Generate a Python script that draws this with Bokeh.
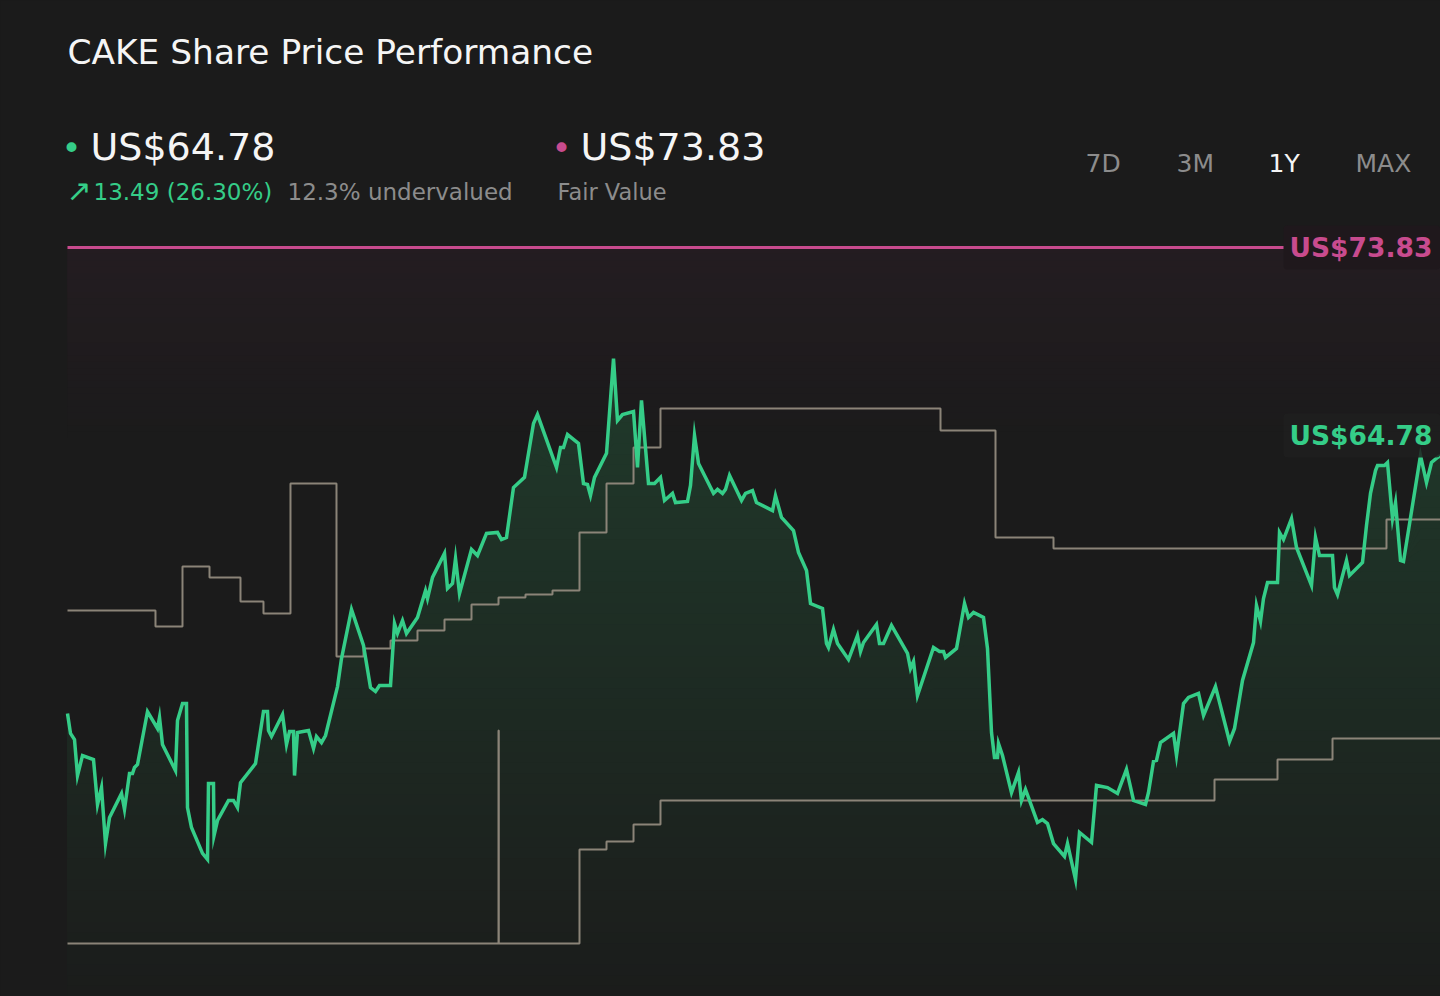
import numpy as np
from bokeh.plotting import figure
from bokeh.models import Range1d, Label
from bokeh.embed import file_html
from bokeh.resources import INLINE

# ---------------- data ----------------
title_text = "CAKE Share Price Performance"
last_price = 64.78
fair_value = 73.83
change_abs = 13.49
change_pct = 26.30
undervalued_pct = 12.3
periods = ["7D", "3M", "1Y", "MAX"]
active_period = "1Y"

# days since start of the 1Y window, and share price (US$)
day = [0.00, 0.80, 1.86, 2.66, 3.99, 6.91, 7.98, 9.04, 10.10, 11.17,
       14.36, 15.15, 16.48, 17.28, 17.81, 18.61, 21.27, 23.93, 24.46, 25.25,
       28.71, 29.24, 30.57, 31.63, 31.90, 32.96, 35.89, 37.22, 37.48, 38.81,
       38.95, 39.88, 42.80, 44.13, 45.19, 45.99, 49.98, 52.10, 53.17, 53.43,
       54.23, 57.16, 58.22, 59.02, 60.08, 60.35, 61.14, 64.07, 65.40, 66.19,
       67.52, 68.59, 71.78, 72.84, 75.50, 78.69, 80.55, 81.88, 82.94, 85.87,
       86.93, 87.73, 89.06, 90.12, 93.04, 95.17, 95.70, 97.03, 100.22, 101.02,
       102.35, 103.15, 104.21, 107.40, 108.99, 111.39, 114.31, 115.37, 116.70, 118.56,
       121.49, 123.88, 124.94, 130.00, 131.06, 131.86, 132.92, 135.84, 137.17, 138.24,
       139.03, 140.10, 143.29, 145.15, 146.21, 147.54, 150.47, 151.53, 152.59, 154.45,
       156.05, 157.64, 158.71, 160.83, 161.63, 164.82, 165.62, 166.68, 167.75, 171.73,
       172.80, 174.13, 174.92, 175.99, 179.18, 180.24, 182.10, 183.16, 187.42, 188.21,
       189.81, 193.00, 194.33, 196.46, 197.52, 200.71, 201.77, 202.30, 203.63, 204.70,
       207.62, 210.01, 210.81, 211.61, 215.06, 215.86, 216.93, 219.05, 223.31, 224.10,
       224.90, 225.96, 230.22, 231.81, 232.88, 233.41, 236.33, 238.46, 239.52, 240.85,
       243.51, 244.57, 245.64, 246.43, 247.23, 247.50, 248.56, 250.95, 252.81, 253.61,
       254.67, 257.86, 259.19, 260.52, 262.12, 265.04, 265.84, 267.97, 269.03, 272.22,
       273.55, 276.47, 279.13, 281.52, 283.39, 286.58, 287.37, 288.70, 289.50, 290.56,
       294.02, 294.82, 296.68, 298.01, 300.67, 302.00, 305.18, 308.91, 310.24, 312.36,
       315.29, 316.08, 317.15, 317.94, 319.01, 321.67, 322.20, 323.26, 325.39, 326.72,
       330.70, 331.77, 332.83, 336.29, 336.82, 337.62, 340.01, 340.81, 344.26, 345.33,
       346.39, 347.72, 348.25, 350.11, 350.91, 352.24, 353.04, 354.36, 355.16, 359.68,
       361.28, 362.61, 364.20, 365.00]

price = [51.24, 50.19, 49.87, 47.98, 49.03, 48.82, 46.46, 47.35, 44.41, 45.78,
         47.04, 46.20, 48.09, 48.09, 48.40, 48.56, 51.34, 50.45, 51.03, 49.61,
         48.24, 50.87, 51.76, 51.76, 46.30, 45.25, 43.89, 43.57, 47.56, 47.56,
         44.83, 45.62, 46.67, 46.67, 46.30, 47.61, 48.61, 51.34, 51.34, 50.34,
         50.03, 51.18, 49.61, 50.29, 50.29, 47.98, 50.24, 50.34, 49.40, 50.03,
         49.71, 50.08, 52.65, 54.12, 56.70, 54.81, 52.60, 52.39, 52.71, 52.71,
         55.96, 55.44, 56.12, 55.44, 56.28, 57.69, 57.27, 58.38, 59.64, 57.80,
         58.06, 59.37, 57.54, 59.85, 59.53, 60.69, 60.74, 60.37, 60.48, 63.10,
         63.63, 66.46, 66.93, 64.15, 65.20, 65.20, 65.88, 65.41, 63.31, 63.26,
         62.68, 63.63, 64.89, 69.87, 66.62, 66.93, 67.09, 64.15, 67.67, 63.31,
         63.31, 63.63, 62.42, 62.79, 62.31, 62.37, 63.21, 65.83, 64.36, 62.79,
         63.00, 62.79, 63.00, 63.73, 62.42, 62.79, 62.94, 62.31, 61.89, 62.68,
         61.53, 60.84, 59.69, 58.74, 57.01, 56.75, 54.91, 54.70, 55.65, 54.91,
         54.07, 55.33, 54.49, 54.96, 55.91, 54.91, 54.91, 55.86, 54.39, 53.60,
         53.97, 52.18, 54.70, 54.49, 54.49, 54.18, 54.65, 57.01, 56.28, 56.54,
         56.28, 54.65, 50.24, 48.93, 48.93, 49.66, 49.03, 47.09, 48.14, 46.67,
         47.25, 45.52, 45.67, 45.46, 44.41, 43.73, 44.41, 42.52, 44.99, 44.47,
         47.46, 47.35, 47.04, 48.30, 46.67, 46.46, 47.09, 48.72, 48.77, 49.71,
         50.19, 49.03, 51.76, 52.08, 52.29, 51.13, 52.65, 49.77, 50.45, 52.97,
         54.96, 56.91, 56.07, 57.27, 58.11, 58.11, 60.74, 60.37, 61.47, 59.95,
         57.96, 60.48, 59.53, 59.53, 57.85, 57.48, 59.27, 58.48, 59.16, 61.11,
         62.79, 63.99, 64.25, 64.25, 64.41, 61.47, 62.31, 59.27, 59.22, 64.78,
         63.36, 64.41, 64.68, 64.78]

# two step series shown in grey (same US$ scale)
upper_step_day = [0, 23.39, 30.57, 37.75, 45.99, 52.10, 59.28, 71.51, 78.69, 85.87,
                  93.04, 100.22, 107.40, 114.58, 121.75, 128.93, 136.11, 143.29,
                  150.47, 157.64, 232.08, 246.70, 262.12, 350.64, 365.00]
upper_step_val = [56.64, 55.80, 58.95, 58.38, 57.12, 56.49, 63.31, 54.23, 54.65, 55.07,
                  55.59, 56.17, 56.96, 57.33, 57.48, 57.69, 60.74, 63.31,
                  65.20, 67.25, 66.09, 60.48, 59.90, 61.42, 61.42]
lower_step_day = [0, 114.58, 114.65, 136.11, 143.29, 150.47, 157.64, 304.92, 321.67, 336.29, 365.00]
lower_step_val = [39.16, 50.34, 39.16, 44.10, 44.52, 45.41, 46.67, 47.77, 48.82, 49.92, 49.92]

# ---------------- style ----------------
BG = "#1b1b1b"
GREEN = "#35cd88"
PINK = "#c84b8e"
STEP_GREY = "#8b8478"
WHITE = "#f5f5f5"
GREY_TXT = "#8c8c8c"
FONT = "DejaVu Sans"

W, H = 1440, 996
X_RANGE = (-17.811, 364.998)
Y_RANGE = (36.381, 88.664)
FV_SHIFT = 1.868  # fair value track

p = figure(width=W, height=H, x_range=Range1d(*X_RANGE), y_range=Range1d(*Y_RANGE),
           x_axis_type=None, y_axis_type=None, output_backend="svg",
           toolbar_location=None, min_border=0, background_fill_color=BG,
           border_fill_color=BG, outline_line_color=None)
p.grid.visible = False
p.extra_y_ranges = {"fv": Range1d(Y_RANGE[0] - FV_SHIFT, Y_RANGE[1] - FV_SHIFT)}

day_arr = np.array(day)
price_arr = np.array(price)


def mix(c1, c2, t):
    t = min(max(t, 0.0), 1.0)
    return "#%02x%02x%02x" % tuple(int(round(a + (b - a) * t)) for a, b in zip(c1, c2))


# pink fair value glow band
NB = 30
DEPTH = 10.0
depths = np.linspace(DEPTH, 0.0, NB + 1)[:-1]
pink_cols = [mix((27, 27, 27), (36, 28, 33), 1 - d / DEPTH) for d in depths]
p.quad(left=day_arr[0], right=day_arr[-1], top=fair_value,
       bottom=fair_value - depths, fill_color=pink_cols, line_color=None,
       y_range_name="fv")

# green gradient area under price
NF = 60
lo = Y_RANGE[0]
hi = price_arr.max()
edges = np.linspace(lo, hi, NF + 1)
for k in range(NF - 1, -1, -1):
    mid = (edges[k] + edges[k + 1]) / 2
    col = mix((27, 28, 27), (32, 58, 43), (mid - lo) / (hi - lo))
    p.varea(x=day_arr, y1=lo, y2=np.minimum(price_arr, edges[k + 1]),
            fill_color=col, fill_alpha=1.0)

# fair value line
p.line(x=[day_arr[0], day_arr[-1]], y=[fair_value, fair_value], line_color=PINK,
       line_width=3, y_range_name="fv")

# grey step series
p.step(x=upper_step_day, y=upper_step_val, mode="after", line_color=STEP_GREY, line_width=2)
p.step(x=lower_step_day, y=lower_step_val, mode="after", line_color=STEP_GREY, line_width=2)

# price line
p.line(x=day_arr, y=price_arr, line_color=GREEN, line_width=3.5, line_join="miter")


def lab(text, px, py, size, color, bold=False, k=0.38, **kw):
    # py: wanted alphabetic baseline (page pixels from top)
    p.add_layout(Label(x=px, y=H - (py - k * size), x_units="screen", y_units="screen",
                       text=text, text_font=FONT, text_font_size=f"{size}px",
                       text_color=color, text_font_style="bold" if bold else "normal",
                       text_baseline="alphabetic", **kw))


# title & header
lab(title_text, 67, 65, 34.4, WHITE)
lab("\u2022", 61, 160, 34, GREEN)
lab(f"US${last_price:.2f}", 90, 161, 38, WHITE)
lab("\u2022", 551, 160, 34, PINK)
lab(f"US${fair_value:.2f}", 580, 161, 38, WHITE)
lab("\u2197", 66, 201, 30, GREEN)
lab(f"{change_abs:.2f} ({change_pct:.2f}%)", 93, 200, 23, GREEN)
lab(f"{undervalued_pct:.1f}% undervalued", 287, 200, 23, GREY_TXT)
lab("Fair Value", 557, 200, 22.5, GREY_TXT)

period_x = [1085, 1176, 1268, 1355]
for t, px in zip(periods, period_x):
    lab(t, px, 172, 25, WHITE if t == active_period else GREY_TXT)

# value tags at right
lab(f"US${fair_value:.2f}", 1283, 255, 26.5, PINK, bold=True, k=0.30,
    background_fill_color="#1f181c", background_fill_alpha=1.0,
    padding=(6, 8, 6, 7), border_radius=4)
lab(f"US${last_price:.2f}", 1283, 443, 26.5, GREEN, bold=True, k=0.30,
    background_fill_color="#1e1e1e", background_fill_alpha=0.85,
    padding=(6, 8, 6, 7), border_radius=4)

html = file_html(p, INLINE, title=title_text)
html = html.replace("<head>", "<head><style>html,body{background:#1b1b1b;}</style>", 1)
open("out.html", "w").write(html)
